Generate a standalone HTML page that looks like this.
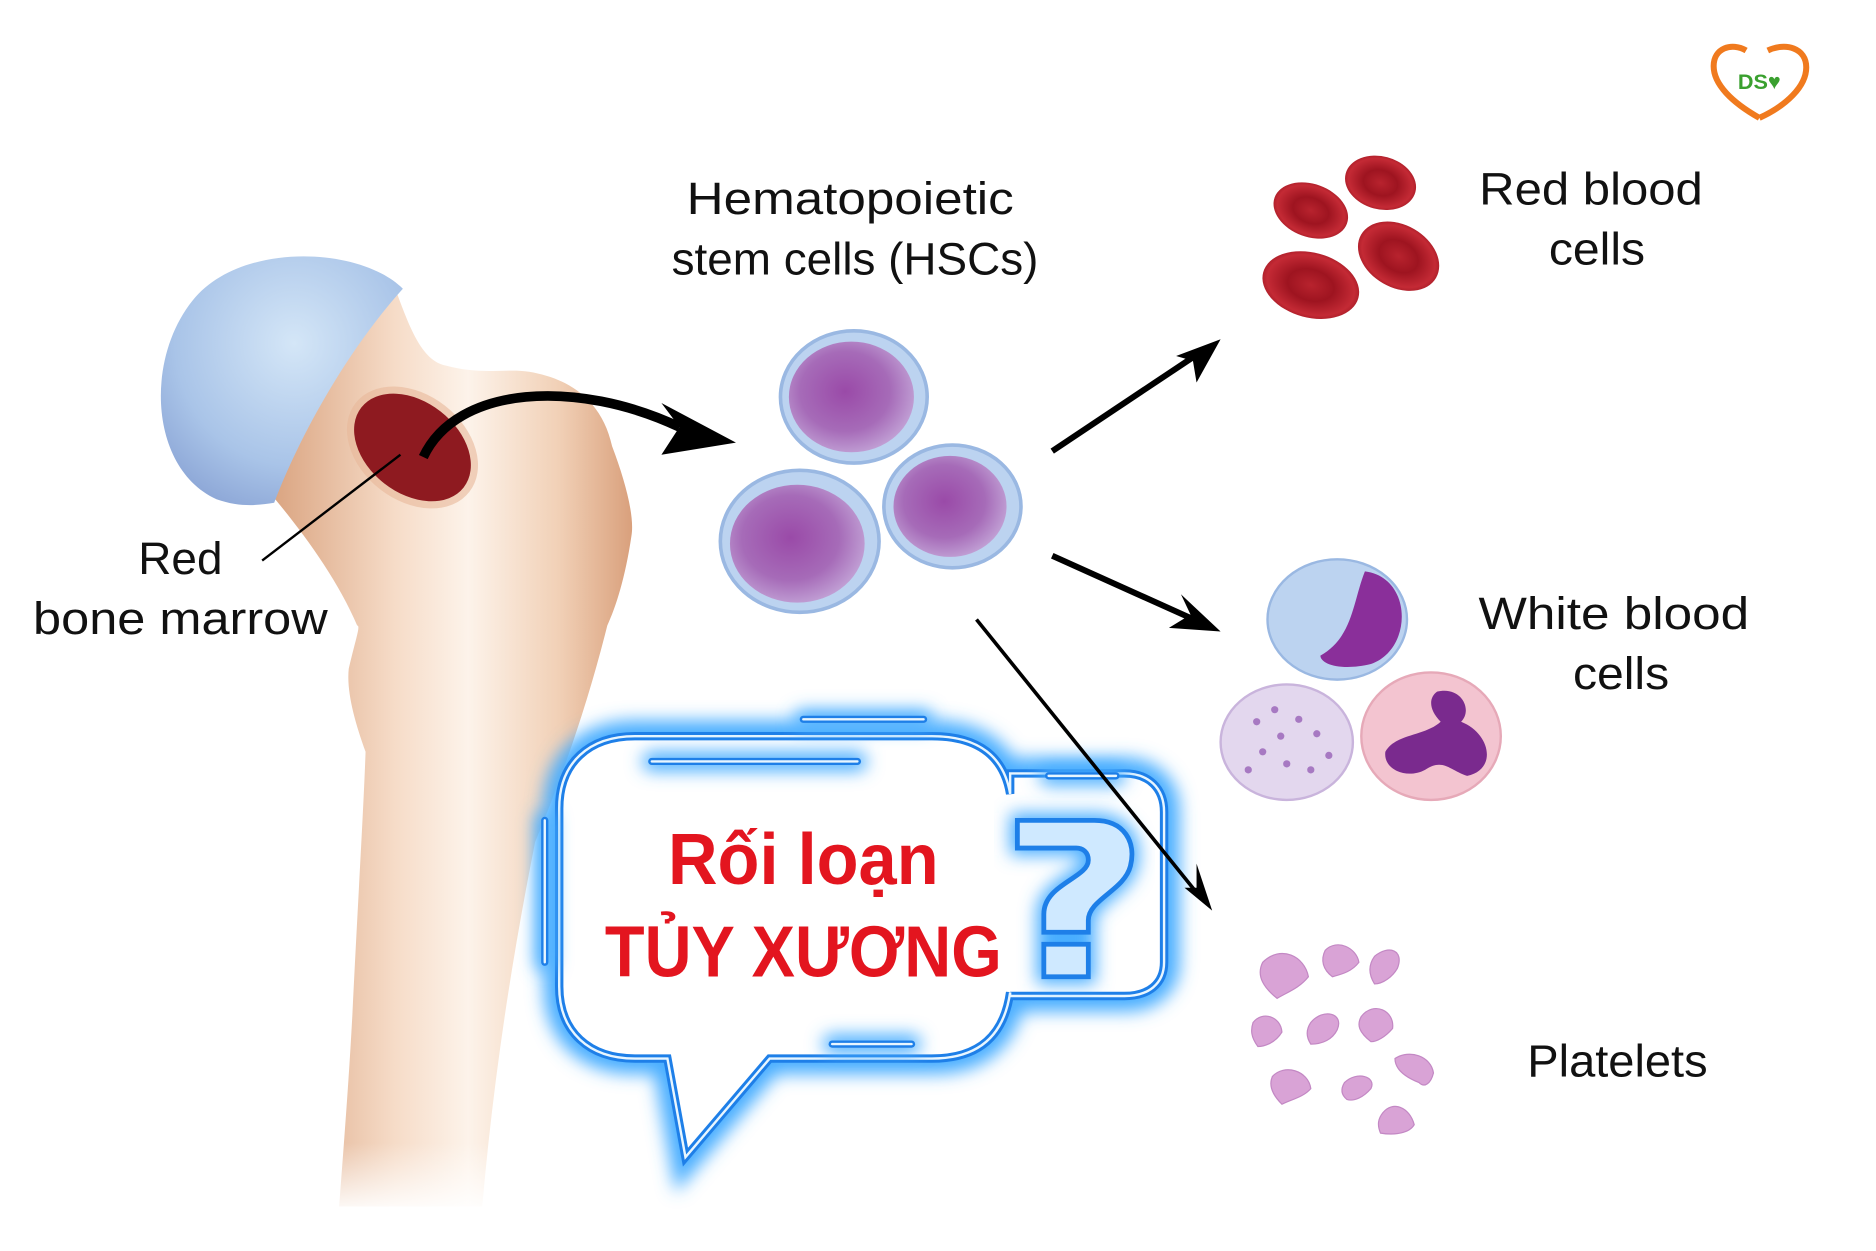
<!DOCTYPE html>
<html><head><meta charset="utf-8"><style>
html,body{margin:0;padding:0;background:#fff}
svg{display:block}
text{font-family:"Liberation Sans",sans-serif}
</style></head><body>
<svg width="1876" height="1251" viewBox="0 0 1560 1040" preserveAspectRatio="none" xmlns="http://www.w3.org/2000/svg">
<defs>
<linearGradient id="bone" x1="0" y1="0" x2="1" y2="0">
<stop offset="0" stop-color="#d9a27e"/><stop offset="0.35" stop-color="#f6dcc8"/><stop offset="0.55" stop-color="#fdf3ea"/><stop offset="0.8" stop-color="#f1d0b6"/><stop offset="1" stop-color="#d9a07c"/>
</linearGradient>
<linearGradient id="fade" x1="0" y1="0" x2="0" y2="1">
<stop offset="0" stop-color="#fff" stop-opacity="0"/><stop offset="1" stop-color="#fff" stop-opacity="1"/>
</linearGradient>
<radialGradient id="cap" cx="0.55" cy="0.35" r="0.7">
<stop offset="0" stop-color="#d4e6f7"/><stop offset="0.7" stop-color="#a9c4e8"/><stop offset="1" stop-color="#8fa9d8"/>
</radialGradient>
<radialGradient id="hsc" cx="0.45" cy="0.45" r="0.6">
<stop offset="0" stop-color="#9a4aa8"/><stop offset="0.6" stop-color="#a66bb8"/><stop offset="1" stop-color="#c4a6d8"/>
</radialGradient>
<radialGradient id="rbc" cx="0.5" cy="0.5" r="0.6">
<stop offset="0" stop-color="#b8232e"/><stop offset="0.4" stop-color="#9e1420"/><stop offset="0.75" stop-color="#c42a35"/><stop offset="1" stop-color="#8d0f19"/>
</radialGradient>
<filter id="glow" x="-20%" y="-20%" width="140%" height="140%"><feGaussianBlur stdDeviation="7"/></filter>
</defs>

<!-- bone -->
<path d="M280,250 C300,240 318,238 329,241 C340,270 350,300 371,304 C400,312 420,306 440,309 C470,314 500,330 509,371 C520,400 528,430 525,446 C520,480 512,505 505,520 C490,580 470,640 445,700 C425,800 410,900 401,1003 L282,1003 C286,950 290,900 293,844 C297,760 302,680 304,625 C295,600 288,575 290,556 C296,530 300,520 297,520 C280,480 250,440 223,408 C240,370 255,300 280,250Z" fill="url(#bone)"/>
<path d="M335,240 C300,205 200,200 160,250 C120,300 125,390 180,415 C200,422 215,420 228,418 C250,360 290,290 335,240Z" fill="url(#cap)"/>
<rect x="270" y="950" width="150" height="60" fill="url(#fade)"/>
<ellipse cx="343" cy="372" rx="60" ry="44" transform="rotate(38 343 372)" fill="#e8b79a" opacity="0.6"/>
<ellipse cx="343" cy="372" rx="54" ry="38" transform="rotate(38 343 372)" fill="#8e1a20"/>
<line x1="218" y1="466" x2="333" y2="378" stroke="#000" stroke-width="2"/>
<path d="M352,380 C380,320 480,315 565,355" fill="none" stroke="#000" stroke-width="8"/>
<path d="M550,335 L612,368 L550,378 L565,355Z" fill="#000"/>

<!-- texts -->
<g font-size="38" fill="#111" text-anchor="middle">
<text x="707" y="178" textLength="272" lengthAdjust="spacingAndGlyphs">Hematopoietic</text>
<text x="711" y="228" textLength="305" lengthAdjust="spacingAndGlyphs">stem cells (HSCs)</text>
<text x="1323" y="170" textLength="186" lengthAdjust="spacingAndGlyphs">Red blood</text>
<text x="1328" y="220" textLength="80" lengthAdjust="spacingAndGlyphs">cells</text>
<text x="1342" y="523" textLength="225" lengthAdjust="spacingAndGlyphs">White blood</text>
<text x="1348" y="573" textLength="80" lengthAdjust="spacingAndGlyphs">cells</text>
<text x="1345" y="895" textLength="150" lengthAdjust="spacingAndGlyphs">Platelets</text>
<text x="150" y="477" textLength="70" lengthAdjust="spacingAndGlyphs">Red</text>
<text x="150" y="527" textLength="245" lengthAdjust="spacingAndGlyphs">bone marrow</text>
</g>

<!-- HSCs -->
<g stroke="#9ab8e2" stroke-width="3">
<ellipse cx="710" cy="330" rx="61" ry="55" fill="#bcd3f0"/>
<ellipse cx="665" cy="450" rx="66" ry="59" fill="#bcd3f0"/>
<ellipse cx="792" cy="421" rx="57" ry="51" fill="#bcd3f0"/>
</g>
<ellipse cx="708" cy="330" rx="52" ry="46" fill="url(#hsc)"/>
<ellipse cx="663" cy="452" rx="56" ry="49" fill="url(#hsc)"/>
<ellipse cx="790" cy="421" rx="47" ry="42" fill="url(#hsc)"/>

<!-- arrows -->
<line x1="875" y1="375" x2="995" y2="295" stroke="#000" stroke-width="5"/>
<path d="M1015,282 L978,296 L992,300 L995,318Z" fill="#000"/>
<line x1="875" y1="462" x2="995" y2="516" stroke="#000" stroke-width="5"/>
<path d="M1015,525 L982,494 L990,511 L972,522Z" fill="#000"/>

<!-- RBCs -->
<g>
<ellipse cx="1090" cy="175" rx="32" ry="22" transform="rotate(20 1090 175)" fill="url(#rbc)"/>
<ellipse cx="1148" cy="152" rx="30" ry="22" transform="rotate(15 1148 152)" fill="url(#rbc)"/>
<ellipse cx="1163" cy="213" rx="36" ry="26" transform="rotate(30 1163 213)" fill="url(#rbc)"/>
<ellipse cx="1090" cy="237" rx="41" ry="27" transform="rotate(15 1090 237)" fill="url(#rbc)"/>
</g>

<!-- WBCs -->
<ellipse cx="1112" cy="515" rx="58" ry="50" fill="#bcd3f0" stroke="#9ab8e2" stroke-width="2"/>
<path d="M1135,475 C1175,480 1175,540 1140,552 C1115,558 1098,552 1098,545 C1125,530 1125,500 1135,475Z" fill="#8a2f9a"/>
<ellipse cx="1070" cy="617" rx="55" ry="48" fill="#e3d7ee" stroke="#c9b4dc" stroke-width="2"/>
<g fill="#a779c2">
<circle cx="1045" cy="600" r="3"/><circle cx="1060" cy="590" r="3"/><circle cx="1080" cy="598" r="3"/><circle cx="1095" cy="610" r="3"/><circle cx="1050" cy="625" r="3"/><circle cx="1070" cy="635" r="3"/><circle cx="1090" cy="640" r="3"/><circle cx="1038" cy="640" r="3"/><circle cx="1105" cy="628" r="3"/><circle cx="1065" cy="612" r="3"/>
</g>
<ellipse cx="1190" cy="612" rx="58" ry="53" fill="#f3c4d0" stroke="#e6a9b8" stroke-width="2"/>
<path d="M1195,575 C1215,570 1225,590 1215,600 C1240,610 1245,640 1220,645 C1205,640 1200,630 1185,640 C1170,648 1150,640 1152,625 C1160,610 1185,612 1198,600 C1188,590 1188,580 1195,575Z" fill="#7a2a8e"/>

<!-- platelets -->
<g fill="#d9a3d6" stroke="#c388c4" stroke-width="1">
<path d="M1050,800 C1065,785 1085,795 1088,812 C1080,822 1070,825 1062,830 C1052,822 1044,812 1050,800Z"/>
<path d="M1102,790 C1112,780 1128,788 1130,800 C1124,808 1115,810 1108,812 C1100,806 1098,798 1102,790Z"/>
<path d="M1143,795 C1155,785 1168,790 1162,805 C1158,812 1150,818 1143,818 C1138,810 1138,802 1143,795Z"/>
<path d="M1042,850 C1050,840 1065,845 1066,858 C1060,868 1050,870 1046,870 C1040,862 1040,856 1042,850Z"/>
<path d="M1090,850 C1100,838 1118,842 1112,856 C1108,864 1100,868 1090,868 C1086,862 1086,856 1090,850Z"/>
<path d="M1132,845 C1142,832 1160,840 1158,855 C1152,862 1145,866 1140,866 C1130,858 1128,852 1132,845Z"/>
<path d="M1058,895 C1068,884 1088,890 1090,905 C1084,912 1074,914 1066,918 C1058,910 1055,902 1058,895Z"/>
<path d="M1118,900 C1128,890 1145,895 1140,905 C1134,912 1126,916 1120,914 C1115,910 1115,905 1118,900Z"/>
<path d="M1160,880 C1172,872 1190,878 1192,892 C1190,900 1185,905 1180,900 C1170,896 1160,890 1160,880Z"/>
<path d="M1150,925 C1158,915 1172,920 1176,935 C1172,942 1160,944 1148,942 C1145,935 1146,930 1150,925Z"/>
</g>

<!-- speech bubble -->
<g>
<path d="M528,612 L775,612 C815,612 835,630 840,660 L840,643 L935,643 C955,643 968,655 968,675 L968,800 C968,818 955,828 935,828 L840,828 L840,825 C835,860 815,880 775,880 L640,880 L570,962 L555,880 L528,880 C490,880 465,858 465,820 L465,672 C465,634 490,612 528,612Z" fill="none" stroke="#4aaeff" stroke-width="26" filter="url(#glow)"/>
<path d="M528,612 L775,612 C815,612 835,630 840,660 L840,643 L935,643 C955,643 968,655 968,675 L968,800 C968,818 955,828 935,828 L840,828 L840,825 C835,860 815,880 775,880 L640,880 L570,962 L555,880 L528,880 C490,880 465,858 465,820 L465,672 C465,634 490,612 528,612Z" fill="#fff" stroke="#1e7fe8" stroke-width="7"/>
<path d="M528,612 L775,612 C815,612 835,630 840,660 L840,643 L935,643 C955,643 968,655 968,675 L968,800 C968,818 955,828 935,828 L840,828 L840,825 C835,860 815,880 775,880 L640,880 L570,962 L555,880 L528,880 C490,880 465,858 465,820 L465,672 C465,634 490,612 528,612Z" fill="none" stroke="#e8f6ff" stroke-width="2"/>
<g stroke="#4aaeff" stroke-width="16" stroke-linecap="round" filter="url(#glow)">
<line x1="668" y1="598" x2="768" y2="598"/><line x1="542" y1="633" x2="713" y2="633"/><line x1="692" y1="868" x2="758" y2="868"/><line x1="872" y1="645" x2="928" y2="645"/><line x1="453" y1="682" x2="453" y2="800"/>
</g>
<g stroke="#1e7fe8" stroke-width="6" stroke-linecap="round">
<line x1="668" y1="598" x2="768" y2="598"/><line x1="542" y1="633" x2="713" y2="633"/><line x1="692" y1="868" x2="758" y2="868"/><line x1="872" y1="645" x2="928" y2="645"/><line x1="453" y1="682" x2="453" y2="800"/>
</g>
<g stroke="#e8f6ff" stroke-width="2" stroke-linecap="round">
<line x1="668" y1="598" x2="768" y2="598"/><line x1="542" y1="633" x2="713" y2="633"/><line x1="692" y1="868" x2="758" y2="868"/><line x1="872" y1="645" x2="928" y2="645"/><line x1="453" y1="682" x2="453" y2="800"/>
</g>
<path d="M846,682 L910,682 C935,682 945,700 940,720 C935,740 905,748 905,765 L905,775 L868,775 L868,760 C868,735 905,730 905,715 C905,708 900,705 895,705 L846,705Z M868,785 L905,785 L905,812 L868,812Z" fill="#4aaeff" stroke="#4aaeff" stroke-width="12" filter="url(#glow)"/>
<path d="M846,682 L910,682 C935,682 945,700 940,720 C935,740 905,748 905,765 L905,775 L868,775 L868,760 C868,735 905,730 905,715 C905,708 900,705 895,705 L846,705Z M868,785 L905,785 L905,812 L868,812Z" fill="#cfe9ff" stroke="#1e7fe8" stroke-width="4"/>
<text x="668" y="735" text-anchor="middle" font-size="60" font-weight="bold" fill="#e3151f" textLength="225" lengthAdjust="spacingAndGlyphs">Rối loạn</text>
<text x="668" y="812" text-anchor="middle" font-size="60" font-weight="bold" fill="#e3151f" textLength="330" lengthAdjust="spacingAndGlyphs">TỦY XƯƠNG</text>
</g>

<!-- arrow 3 on top of bubble -->
<line x1="812" y1="515" x2="995" y2="742" stroke="#000" stroke-width="3"/>
<path d="M1008,757 L985,738 L995,738 L995,718Z" fill="#000"/>

<!-- logo -->
<path d="M1463,98 C1440,85 1425,70 1425,55 C1425,40 1440,35 1452,42 M1470,42 C1485,35 1502,40 1502,56 C1502,72 1485,88 1463,98" fill="none" stroke="#f07a1e" stroke-width="5"/>
<text x="1463" y="74" text-anchor="middle" font-size="18" font-weight="bold" fill="#3aa02f" font-family="Liberation Serif">DS♥</text>
</svg>
</body></html>
